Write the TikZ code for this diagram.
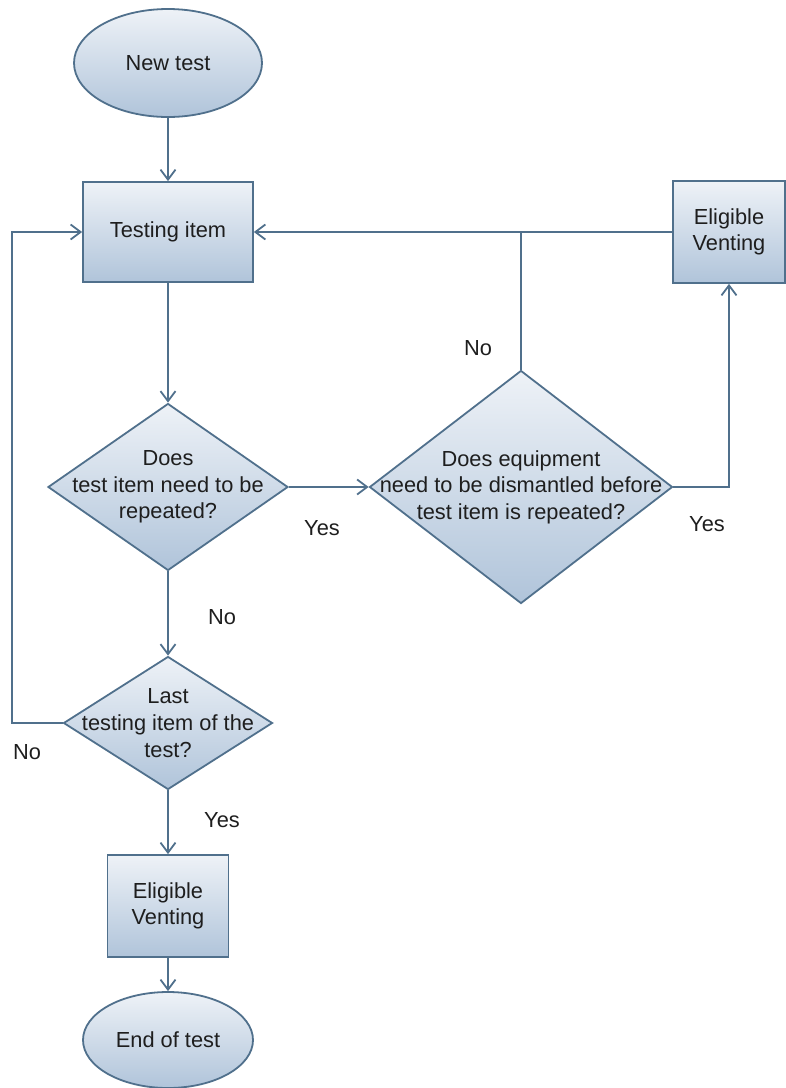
\documentclass[tikz,border=0pt]{standalone}
\usepackage{fontspec}
\setmainfont{Liberation Sans}
\usetikzlibrary{shapes.geometric,arrows.meta}

\definecolor{edgeblue}{RGB}{80,112,140}
\definecolor{filltop}{RGB}{238,242,247}
\definecolor{fillbot}{RGB}{176,196,218}
\definecolor{textgray}{RGB}{30,30,30}

\tikzset{
    box/.style={draw=edgeblue, line width=0.9pt, top color=filltop, bottom color=fillbot, inner sep=0pt, align=center},
    proc/.style={box, rectangle},
    term/.style={box, ellipse},
    decide/.style={box, diamond},
    flow/.style={draw=edgeblue, line width=0.9pt, -{Straight Barb[length=5pt,width=7.5pt]}},
    plain/.style={draw=edgeblue, line width=0.9pt},
}

\begin{document}
\begin{tikzpicture}[x=0.5pt,y=-0.5pt,font=\fontsize{10.9}{13.3}\selectfont,text=textgray]
    \useasboundingbox (0,0) rectangle (786,1088);

    % Start and end
    \node[term, minimum width=94pt, minimum height=54pt] (start) at (168,63) {New test};
    \node[term, minimum width=85pt, minimum height=48pt] (finish) at (168,1040) {End of test};

    % Boxes
    \node[proc, minimum width=85pt, minimum height=50pt] (item) at (168,232) {Testing item};
    \node[proc, minimum width=56pt, minimum height=51pt] (vent1) at (729,232) {Eligible\\Venting};
    \node[proc, minimum width=60.5pt, minimum height=51pt] (vent2) at (168,906) {Eligible\\Venting};

    % Decisions
    \node[decide, minimum width=120pt, minimum height=83.5pt,
          label={[align=center]center:Does\\test item need to be\\repeated?}] (repeat) at (168,487) {};
    \node[decide, minimum width=151.5pt, minimum height=116.5pt,
          label={[align=center]center:Does equipment\\need to be dismantled before\\test item is repeated?}] (dismantle) at (521,487) {};
    \node[decide, minimum width=104.5pt, minimum height=66.5pt,
          label={[align=center]center:Last\\testing item of the\\test?}] (last) at (168,723) {};

    % Branch labels
    \node (yesRepeat) at (322,528) {Yes};
    \node (noDismantle) at (478,348) {No};
    \node (yesDismantle) at (707,524) {Yes};
    \node (noRepeat) at (222,617) {No};
    \node (noLast) at (27,752) {No};
    \node (yesLast) at (222,820) {Yes};

    % Connectors
    \coordinate (loop) at (12,723);
    \draw[flow] (start) -- (item);
    \draw[flow] (item) -- (repeat);
    \draw[flow] (repeat) -- (dismantle);
    \draw[plain] (dismantle.north) -- (dismantle.north |- item.east);
    \draw[flow] (vent1.west) -- (item.east);
    \draw[flow] (dismantle.east) -| (vent1.south);
    \draw[flow] (repeat) -- (last);
    \draw[flow] (last.west) -- (loop) |- (item.west);
    \draw[flow] (last) -- (vent2);
    \draw[flow] (vent2) -- (finish);
\end{tikzpicture}
\end{document}
